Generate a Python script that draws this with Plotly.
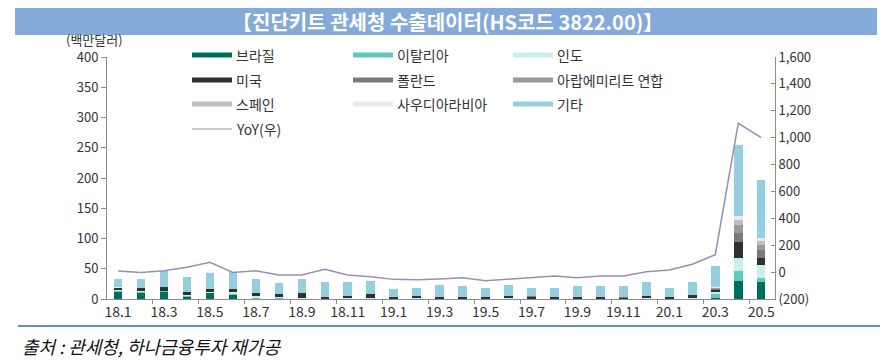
import plotly.graph_objects as go

months = ["18.1","18.2","18.3","18.4","18.5","18.6","18.7","18.8","18.9","18.10","18.11","18.12",
          "19.1","19.2","19.3","19.4","19.5","19.6","19.7","19.8","19.9","19.10","19.11","19.12",
          "20.1","20.2","20.3","20.4","20.5"]

brazil = [13, 11, 12, 4, 10, 7.5, 1, 1, 1, 0.5, 0.5, 0.5, 0.3, 0.3, 0.3, 0.3, 0.3, 0.3, 0.3, 0.3, 0.3, 0.3, 0.3, 0.3, 0.3, 0.5, 1, 30, 27.5]
italy  = [1, 1.5, 1.5, 2, 1, 0.5, 2, 1, 0.5, 0.3, 0.3, 0.3, 0.3, 0.3, 0.3, 0.3, 0.3, 0.3, 0.3, 0.3, 0.3, 0.3, 0.3, 0.3, 0.3, 0.5, 7.5, 16.5, 7.5]
india  = [2.5, 0.5, 0.5, 1, 0.5, 4, 2, 0.5, 0.5, 0.3, 0.3, 0.3, 0.3, 0.3, 0.3, 0.3, 0.3, 0.3, 0.3, 0.3, 0.3, 0.3, 0.3, 0.3, 0.3, 0.5, 2.5, 21, 22]
usa    = [2, 5, 6.5, 4, 5, 4, 4.5, 5.5, 8, 2.5, 3.5, 7.5, 2.5, 3.5, 2, 2, 3, 3.5, 2.5, 3, 3, 3, 2, 4.5, 3, 4.5, 4.5, 27.5, 10]
poland = [0, 0, 0, 0, 0, 0, 0, 0, 0, 0, 0, 0, 0, 0, 0, 0, 0, 0, 1, 0, 0, 0, 1, 0, 0, 0, 1.5, 14, 14]
uae    = [0, 0, 0, 0, 0, 0, 0, 0, 0, 0, 0, 0, 0, 0, 0, 0, 0, 0, 0, 0, 0, 0, 0, 0, 0, 0, 1.5, 12.5, 8.5]
spain  = [0.5, 0, 0, 0, 0, 0, 0, 0, 0, 0, 0, 0, 0, 0, 0, 0, 0, 0, 0, 0, 0, 0, 0, 0, 0, 0, 1, 9.5, 6.5]
saudi  = [1, 0, 0, 0, 0, 0, 0, 0, 0, 0, 0, 0, 0, 0, 0, 0, 0, 0, 0, 0, 0, 0, 0, 0, 0, 0, 0.5, 7, 5.5]
others = [13, 15, 25.5, 25, 26.5, 28, 23.5, 18, 23, 24.5, 23.5, 21.5, 12.5, 14.5, 20, 18, 14.5, 18.5, 13.5, 15, 17, 17, 17, 22.5, 15, 22, 35, 117, 96]
yoy    = [8, -2, 10, 36, 73, -2, 10, -22, -22, 21, -22, -34, -54, -57, -51, -42, -64, -54, -42, -29, -42, -29, -29, 3, 16, 58, 130, 1107, 1000]

series = [
    ("브라질", brazil, "#006e5c"),
    ("이탈리아", italy, "#5fcab7"),
    ("인도", india, "#c9efea"),
    ("미국", usa, "#303030"),
    ("폴란드", poland, "#7a7a7a"),
    ("아랍에미리트 연합", uae, "#9a9a9a"),
    ("스페인", spain, "#bfbfbf"),
    ("사우디아라비아", saudi, "#ebebeb"),
    ("기타", others, "#93cfdf"),
]
yoy_name = "YoY(우)"
yoy_color = "#978fb0"

left_ticks = [0, 50, 100, 150, 200, 250, 300, 350, 400]
right_ticks = [-200, 0, 200, 400, 600, 800, 1000, 1200, 1400, 1600]
right_ticktext = ["(200)", "0", "200", "400", "600", "800", "1,000", "1,200", "1,400", "1,600"]

FONT = "Noto Sans CJK KR"
W, H = 895, 360
L, R, T, B = 107, 775, 57, 299

x = list(range(len(months)))

fig = go.Figure()
for name, vals, col in series:
    fig.add_trace(go.Bar(x=x, y=vals, name=name, marker=dict(color=col, line=dict(width=0)),
                         width=0.37, showlegend=False))
fig.add_trace(go.Scatter(x=x, y=yoy, name=yoy_name, yaxis="y2", mode="lines",
                         line=dict(color=yoy_color, width=1.5), showlegend=False))

def px(p):
    return (p - L) / (R - L)

def py(p):
    return (B - p) / (B - T)

shapes = []
annotations = []

# title band
shapes.append(dict(type="rect", xref="paper", yref="paper", x0=px(15), x1=px(877), y0=py(35), y1=py(8),
                   fillcolor="#84aad9", line=dict(width=0), layer="below"))
annotations.append(dict(xref="paper", yref="paper", x=px(447), y=py(21.5), text="<b>【진단키트 관세청 수출데이터(HS코드 3822.00)】</b>",
                        showarrow=False, font=dict(family=FONT, size=20, color="white"), xanchor="center", yanchor="middle"))

# bottom rule and source
shapes.append(dict(type="line", xref="paper", yref="paper", x0=px(18), x1=px(880), y0=py(326), y1=py(326),
                   line=dict(color="#2a6f8c", width=1.5)))
annotations.append(dict(xref="paper", yref="paper", x=px(20), y=py(346), text="<i>출처 : 관세청, 하나금융투자 재가공</i>",
                        showarrow=False, font=dict(family=FONT, size=18, color="#111"), xanchor="left", yanchor="middle"))

# axis unit
annotations.append(dict(xref="paper", yref="paper", x=px(65), y=py(40), text="(백만달러)", borderpad=0,
                        showarrow=False, font=dict(family=FONT, size=13, color="#333"), xanchor="left", yanchor="middle"))

# manual legend
cols_x = [192, 353, 513]
rows_y = [55, 80, 104, 129]
entries = [(n, c) for n, _, c in series]
for i, (name, col) in enumerate(entries):
    cx = cols_x[i % 3]
    ry = rows_y[i // 3]
    shapes.append(dict(type="rect", xref="paper", yref="paper", x0=px(cx), x1=px(cx + 40),
                       y0=py(ry + 2.5), y1=py(ry - 2.5), fillcolor=col, line=dict(width=0)))
    annotations.append(dict(xref="paper", yref="paper", x=px(cx + 42), y=py(ry), text=name, showarrow=False,
                            font=dict(family=FONT, size=14, color="#333"), xanchor="left", yanchor="middle"))
shapes.append(dict(type="line", xref="paper", yref="paper", x0=px(192), x1=px(232), y0=py(129), y1=py(129),
                   line=dict(color=yoy_color, width=1.2)))
annotations.append(dict(xref="paper", yref="paper", x=px(234), y=py(129), text=yoy_name, showarrow=False,
                        font=dict(family=FONT, size=14, color="#333"), xanchor="left", yanchor="middle"))

fig.update_layout(
    width=W, height=H,
    margin=dict(l=L, r=W - R, t=T, b=H - B),
    paper_bgcolor="white", plot_bgcolor="white",
    barmode="stack", bargap=0,
    font=dict(family=FONT, size=13, color="#333"),
    showlegend=False,
    xaxis=dict(range=[-0.48, 28.6], tickvals=x[::2], ticktext=months[::2], ticks="", showgrid=False,
               showline=True, linecolor="#8c8c8c", linewidth=1, zeroline=False,
               tickfont=dict(size=14, color="#333"),
               minor=dict(tickvals=[i + 1.5 for i in range(0, 28, 2)], ticks="outside", ticklen=4,
                          tickcolor="#8c8c8c", showgrid=False)),
    yaxis=dict(range=[0, 400], tickvals=left_ticks, ticks="outside", ticklen=5, tickcolor="#8c8c8c",
               showgrid=False, showline=True, linecolor="#8c8c8c", linewidth=1, zeroline=False,
               tickfont=dict(size=13, color="#333")),
    yaxis2=dict(range=[-200, 1600], overlaying="y", side="right", tickvals=right_ticks, ticktext=right_ticktext,
                ticks="inside", ticklen=4, tickcolor="#8c8c8c", showgrid=False, showline=True,
                linecolor="#8c8c8c", linewidth=1, zeroline=False, tickfont=dict(size=13, color="#333")),
    shapes=shapes,
    annotations=annotations,
)

fig.write_html("out.html", config={"displayModeBar": False},
               post_script="document.body.style.margin='0';document.body.style.overflow='hidden';")
